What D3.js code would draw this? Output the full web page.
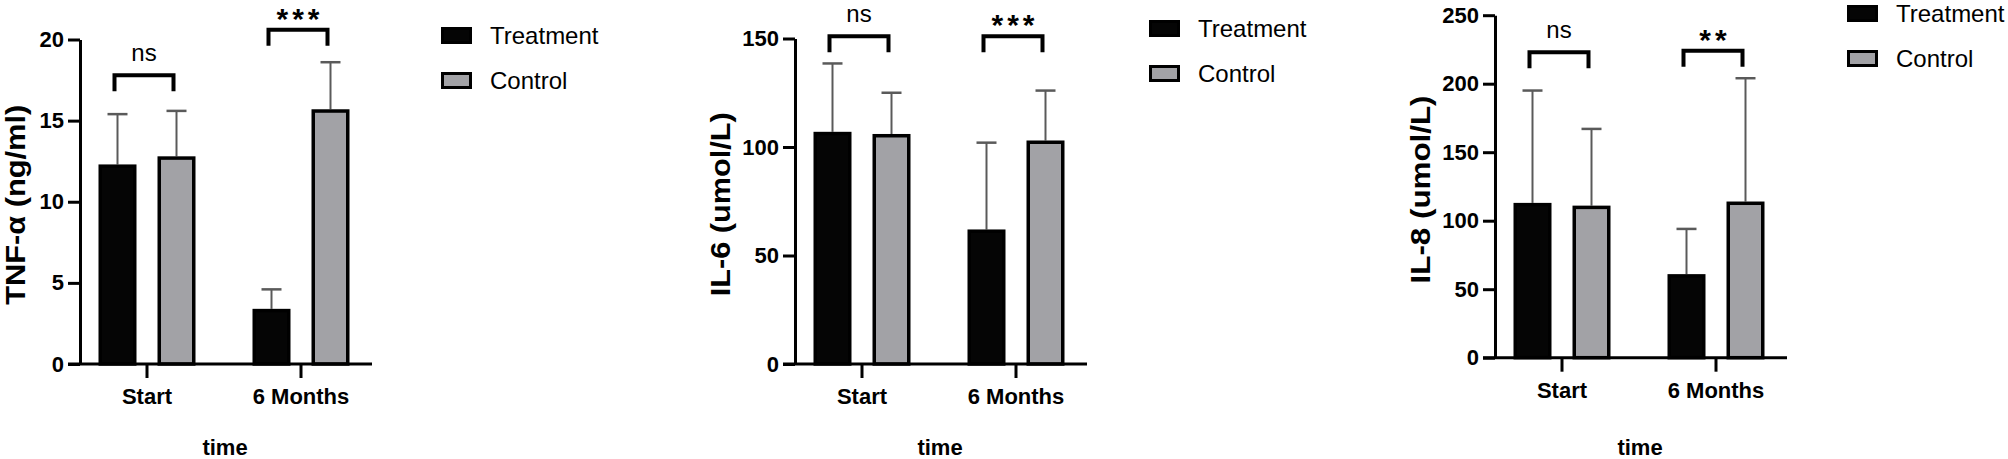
<!DOCTYPE html>
<html>
<head>
<meta charset="utf-8">
<script src="https://cdn.jsdelivr.net/npm/d3@7"></script>
<style>
  body { margin: 0; background: #fff; }
  text { font-family: "Liberation Sans", Arial, sans-serif; fill: #000; }
</style>
</head>
<body>
<div id="chart"></div>
<script>
// data
const groups = ["Start", "6 Months"];
const series = ["Treatment", "Control"];

const tnfTreatment = [12.3, 3.4];
const tnfControl = [12.8, 15.7];
const tnfTreatmentSD = [3.1, 1.2];
const tnfControlSD = [2.8, 2.9];
const tnfTicks = [0, 5, 10, 15, 20];
const tnfSig = ["ns", "***"];
const tnfBracket = [17.8, 20.6];

const il6Treatment = [107, 62];
const il6Control = [106, 103];
const il6TreatmentSD = [31.5, 40];
const il6ControlSD = [19, 23];
const il6Ticks = [0, 50, 100, 150];
const il6Sig = ["ns", "***"];
const il6Bracket = [151, 151];

const il8Treatment = [113, 61];
const il8Control = [111, 114];
const il8TreatmentSD = [82, 33];
const il8ControlSD = [56, 90];
const il8Ticks = [0, 50, 100, 150, 200, 250];
const il8Sig = ["ns", "**"];
const il8Bracket = [223, 224];

const yLabels = ["TNF-α (ng/ml)", "IL-6 (umol/L)", "IL-8 (umol/L)"];
const xLabel = "time";

const panels = [
  { label: yLabels[0], t: tnfTreatment, c: tnfControl, tsd: tnfTreatmentSD, csd: tnfControlSD,
    ticks: tnfTicks, sig: tnfSig, bracket: tnfBracket,
    x0: 80, top: 39.5, bottom: 364, labelOff: 65, labelLen: 200, legX: 441, legY: 27 },
  { label: yLabels[1], t: il6Treatment, c: il6Control, tsd: il6TreatmentSD, csd: il6ControlSD,
    ticks: il6Ticks, sig: il6Sig, bracket: il6Bracket,
    x0: 795, top: 38.5, bottom: 364, labelOff: 75, labelLen: 184, legX: 1149, legY: 20 },
  { label: yLabels[2], t: il8Treatment, c: il8Control, tsd: il8TreatmentSD, csd: il8ControlSD,
    ticks: il8Ticks, sig: il8Sig, bracket: il8Bracket,
    x0: 1495, top: 15.2, bottom: 357.7, labelOff: 75, labelLen: 188, legX: 1847, legY: 5 }
];

const fills = { Treatment: "#050505", Control: "#a2a2a6" };

const svg = d3.select("#chart").append("svg")
  .attr("width", 2008)
  .attr("height", 459);

panels.forEach(p => {
  const g = svg.append("g");

  const x = d3.scaleBand().domain(groups).range([p.x0 - 10, p.x0 + 298]);
  const xSub = d3.scaleBand().domain(series).range([-48.5, 48.5]).paddingInner(0.356);
  const y = d3.scaleLinear()
    .domain([0, d3.max(p.ticks)])
    .range([p.bottom, p.top]);

  const center = (grp, s) => x(grp) + x.bandwidth() / 2 + xSub(s) + xSub.bandwidth() / 2;

  const rows = [];
  groups.forEach((grp, i) => {
    rows.push({ grp, s: "Treatment", v: p.t[i], sd: p.tsd[i] });
    rows.push({ grp, s: "Control", v: p.c[i], sd: p.csd[i] });
  });

  // error bars (upper only)
  const eb = g.selectAll(".err").data(rows).enter().append("g");
  eb.append("line")
    .attr("x1", d => center(d.grp, d.s)).attr("x2", d => center(d.grp, d.s))
    .attr("y1", d => y(d.v)).attr("y2", d => y(d.v + d.sd))
    .attr("stroke", "#5a5a5a").attr("stroke-width", 2);
  eb.append("line")
    .attr("x1", d => center(d.grp, d.s) - 10).attr("x2", d => center(d.grp, d.s) + 10)
    .attr("y1", d => y(d.v + d.sd)).attr("y2", d => y(d.v + d.sd))
    .attr("stroke", "#5a5a5a").attr("stroke-width", 2.5);

  // bars
  g.selectAll(".bar").data(rows).enter().append("rect")
    .attr("x", d => center(d.grp, d.s) - xSub.bandwidth() / 2 + 1.75)
    .attr("width", xSub.bandwidth() - 3.5)
    .attr("y", d => y(d.v) + 1.75)
    .attr("height", d => p.bottom - y(d.v) - 1.75)
    .attr("fill", d => fills[d.s])
    .attr("stroke", "#000")
    .attr("stroke-width", 3.5);

  // y axis
  const yAxis = g.append("g")
    .attr("transform", `translate(${p.x0},0)`)
    .call(d3.axisLeft(y).tickValues(p.ticks).tickSize(12).tickPadding(4).tickSizeOuter(0));
  yAxis.select(".domain").attr("stroke-width", 3);
  yAxis.selectAll(".tick line").attr("stroke-width", 3);
  yAxis.selectAll(".tick text")
    .style("font-family", "'Liberation Sans', Arial, sans-serif")
    .style("font-size", "22px").style("font-weight", "bold");

  // x axis
  g.append("line")
    .attr("x1", p.x0 - 12).attr("x2", p.x0 + 292)
    .attr("y1", p.bottom).attr("y2", p.bottom)
    .attr("stroke", "#000").attr("stroke-width", 3);
  const xt = g.selectAll(".xt").data(groups).enter().append("g")
    .attr("transform", d => `translate(${x(d) + x.bandwidth() / 2},${p.bottom})`);
  xt.append("line").attr("y1", 0).attr("y2", 14).attr("stroke", "#000").attr("stroke-width", 3);
  xt.append("text")
    .attr("y", 40).attr("text-anchor", "middle")
    .style("font-size", "22px").style("font-weight", "bold")
    .text(d => d);

  g.append("text")
    .attr("x", p.x0 + 145).attr("y", 455)
    .attr("text-anchor", "middle")
    .style("font-size", "22px").style("font-weight", "bold")
    .text(xLabel);

  // y label
  g.append("text")
    .attr("transform", `translate(${p.x0 - p.labelOff + 10},${(p.top + p.bottom) / 2 + 3}) rotate(-90)`)
    .attr("text-anchor", "middle")
    .attr("textLength", p.labelLen)
    .attr("lengthAdjust", "spacingAndGlyphs")
    .style("font-size", "27px").style("font-weight", "bold")
    .text(p.label);

  // significance brackets
  groups.forEach((grp, i) => {
    const xa = center(grp, "Treatment") - 3;
    const xb = center(grp, "Control") - 3;
    const yb = y(p.bracket[i]);
    g.append("path")
      .attr("d", `M${xa},${yb + 16}V${yb}H${xb}V${yb + 16}`)
      .attr("fill", "none").attr("stroke", "#000").attr("stroke-width", 4);
    const isStar = p.sig[i] !== "ns";
    g.append("text")
      .attr("x", (xa + xb) / 2 + (isStar ? 2 : 0))
      .attr("y", isStar ? yb - 1 : yb - 14)
      .attr("text-anchor", "middle")
      .style("font-size", isStar ? "30px" : "24px")
      .style("font-weight", isStar ? "bold" : "normal")
      .style("letter-spacing", isStar ? "4px" : "0px")
      .text(p.sig[i]);
  });

  // legend
  const leg = g.selectAll(".leg").data(series).enter().append("g")
    .attr("transform", (d, i) => `translate(${p.legX},${p.legY + i * 45})`);
  leg.append("rect")
    .attr("x", 1.5).attr("y", 1.5).attr("width", 28).attr("height", 14)
    .attr("fill", d => fills[d]).attr("stroke", "#000").attr("stroke-width", 3);
  leg.append("text")
    .attr("x", 49).attr("y", 17)
    .style("font-size", "24px")
    .text(d => d);
});
</script>
</body>
</html>
